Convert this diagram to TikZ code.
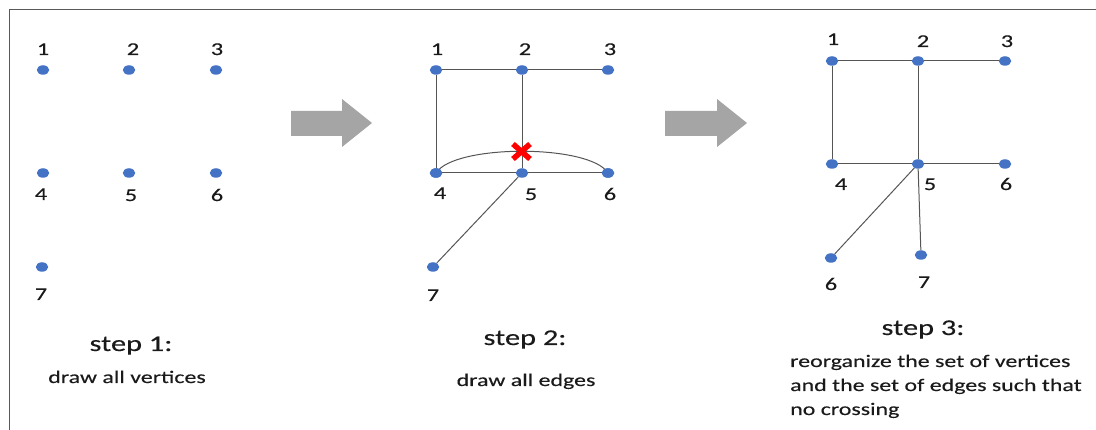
\documentclass[tikz,border=0pt]{standalone}
\usepackage{fontspec}
\setmainfont{Carlito}[FakeStretch=1.35,FakeBold=0.3]
\usetikzlibrary{shapes.geometric}
\definecolor{vblue}{HTML}{4472C4}
\definecolor{agray}{HTML}{A5A5A5}
\definecolor{egray}{HTML}{555555}
\definecolor{txt}{HTML}{1A1A1A}
\definecolor{frame}{HTML}{595959}
\tikzset{
  vtx/.style={ellipse, fill=vblue, draw=none, minimum width=12.5pt, minimum height=9.5pt, inner sep=0pt},
  lbl/.style={anchor=base, inner sep=0pt, text=txt, font=\fontsize{18}{20}\selectfont},
  steptxt/.style={anchor=base, inner sep=0pt, text=txt, font=\fontsize{22.5}{26}\selectfont},
  desctxt/.style={anchor=base, inner sep=0pt, text=txt, font=\fontsize{17.7}{21}\selectfont},
  link/.style={draw=egray, line width=1pt},
  bigarrow/.style={fill=agray, draw=none},
  xmark/.style={draw=red, line width=5.5pt}
}
\begin{document}
\begin{tikzpicture}[x=1pt,y=-1pt]
\useasboundingbox (0,0) rectangle (1096,430);
% frame
\draw[frame, line width=1pt] (9,430) -- (9,10) -- (1096,10);

% ---------- step 1 ----------
\node[vtx] (a1) at (43,70) {};
\node[vtx] (a2) at (129,70) {};
\node[vtx] (a3) at (216,70) {};
\node[vtx] (a4) at (43,173) {};
\node[vtx] (a5) at (129,173) {};
\node[vtx] (a6) at (216,173) {};
\node[vtx] (a7) at (42,267) {};
\node[lbl] (la1) at (43,55) {1};
\node[lbl] (la2) at (133,55) {2};
\node[lbl] (la3) at (217,55) {3};
\node[lbl] (la4) at (41,200) {4};
\node[lbl] (la5) at (131,201) {5};
\node[lbl] (la6) at (217,201) {6};
\node[lbl] (la7) at (41,300) {7};
\node[steptxt] (s1) at (131,351) {step 1:};
\node[desctxt] (d1) at (127,383) {draw all vertices};

% arrow 1
\fill[bigarrow] (291,111) -- (342,111) -- (342,99) -- (372,123) -- (342,147) -- (342,136) -- (291,136) -- cycle;

% ---------- step 2 ----------
\node[vtx] (b1) at (436,70) {};
\node[vtx] (b2) at (522,70) {};
\node[vtx] (b3) at (608,70) {};
\node[vtx] (b4) at (436,173) {};
\node[vtx] (b5) at (522,173) {};
\node[vtx] (b6) at (608,173) {};
\node[vtx] (b7) at (433,267) {};
\draw[link] (b1) -- (b2);
\draw[link] (b2) -- (b3);
\draw[link] (b1) -- (b4);
\draw[link] (b2) -- (b5);
\draw[link] (b4) -- (b5);
\draw[link] (b5) -- (b6);
\draw[link] (b5) -- (b7);
\draw[link] (b4.center) .. controls +(18,-29) and +(-18,-29) .. (b6.center);
\node[vtx] at (b4) {};
\node[vtx] at (b6) {};
\node[lbl] (lb1) at (437,55) {1};
\node[lbl] (lb2) at (525,55) {2};
\node[lbl] (lb3) at (610,55) {3};
\node[lbl] (lb4) at (440,199) {4};
\node[lbl] (lb5) at (531,200) {5};
\node[lbl] (lb6) at (610,200) {6};
\node[lbl] (lb7) at (433,301) {7};
\begin{scope}[shift={(521.5,151.5)}]
\draw[xmark] (-8.5,-7.5) -- (8.5,7.5);
\draw[xmark] (-8.5,7.5) -- (8.5,-7.5);
\end{scope}
\node[steptxt] (s2) at (525,345) {step 2:};
\node[desctxt] (d2) at (526,386) {draw all edges};

% arrow 2
\fill[bigarrow] (665,111) -- (717,111) -- (717,99) -- (747,123) -- (717,147) -- (717,136) -- (665,136) -- cycle;

% ---------- step 3 ----------
\node[vtx] (c1) at (832,61) {};
\node[vtx] (c2) at (918,61) {};
\node[vtx] (c3) at (1005,61) {};
\node[vtx] (c4) at (832,164) {};
\node[vtx] (c5) at (918,164) {};
\node[vtx] (c6) at (1005,164) {};
\node[vtx] (c6b) at (831,258) {};
\node[vtx] (c7) at (921,255) {};
\draw[link] (c1) -- (c2);
\draw[link] (c2) -- (c3);
\draw[link] (c1) -- (c4);
\draw[link] (c2) -- (c5);
\draw[link] (c4) -- (c5);
\draw[link] (c5) -- (c6);
\draw[link] (c5) -- (c6b);
\draw[link] (c5) -- (c7);
\node[lbl] (lc1) at (833,45) {1};
\node[lbl] (lc2) at (923,47) {2};
\node[lbl] (lc3) at (1007,47) {3};
\node[lbl] (lc4) at (841,190) {4};
\node[lbl] (lc5) at (930,190) {5};
\node[lbl] (lc6) at (1006,190) {6};
\node[lbl] (lc6b) at (831,290) {6};
\node[lbl] (lc7) at (924,288) {7};
\node[steptxt] (s3) at (923,335) {step 3:};
\node[desctxt, anchor=base west] (d3a) at (790,367) {reorganize the set of vertices};
\node[desctxt, anchor=base west] (d3b) at (790,391) {and the set of edges such that};
\node[desctxt, anchor=base west] (d3c) at (790,415) {no crossing};
\end{tikzpicture}
\end{document}
